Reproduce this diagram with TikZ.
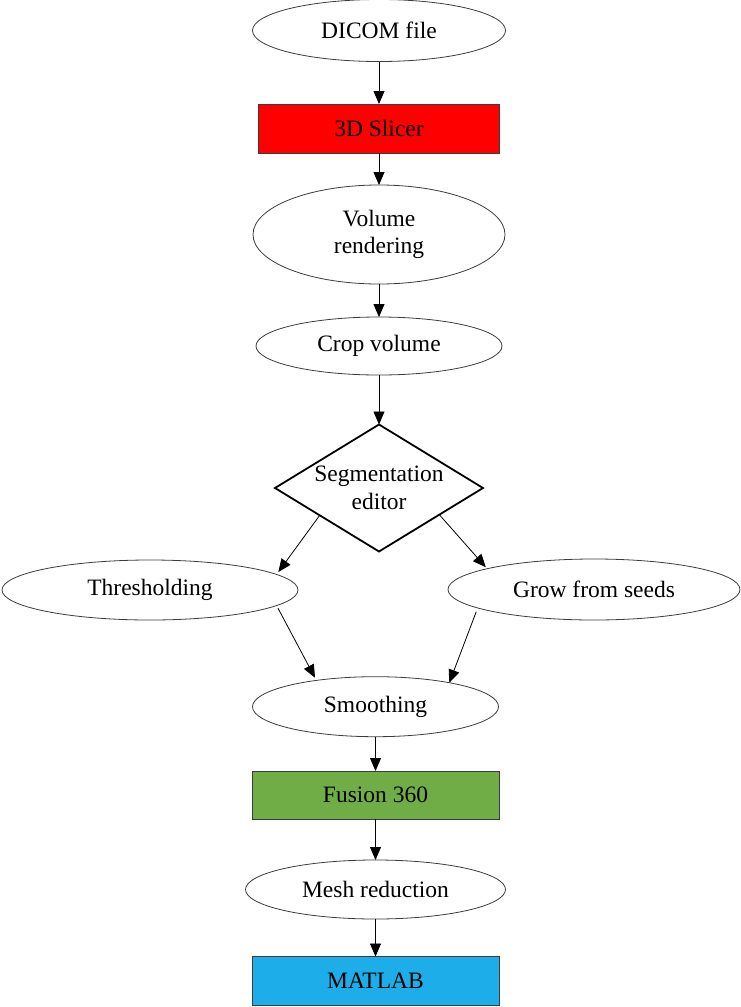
\documentclass[tikz,border=0pt]{standalone}
\usepackage{fontspec}
\setmainfont{Liberation Serif}
\usetikzlibrary{shapes.geometric,arrows.meta,calc}
\definecolor{slicerred}{RGB}{255,0,0}
\definecolor{fusiongreen}{RGB}{112,173,71}
\definecolor{matblue}{RGB}{29,174,234}
\definecolor{edgegray}{RGB}{60,60,60}
\begin{document}
\begin{tikzpicture}[x=1pt,y=-1pt,
  every node/.style={font=\fontsize{23.5}{27.5}\selectfont, inner sep=0pt, outer sep=0pt, align=center},
  oval/.style={ellipse, draw=edgegray, line width=0.8pt, fill=white},
  box/.style={rectangle, draw=edgegray, line width=0.8pt},
  decision/.style={diamond, draw=black, line width=1.8pt, fill=white},
  conn/.style={draw=black, line width=0.8pt, -{Triangle[length=13pt,width=11pt]}}]
\useasboundingbox (0,0) rectangle (741,1007);

\node[oval, minimum width=253pt, minimum height=62pt] (dicom) at (379,30.5) {DICOM file};
\node[box, fill=slicerred, minimum width=241pt, minimum height=49pt] (slicer) at (379,128.5) {3D Slicer};
\node[oval, minimum width=252pt, minimum height=99pt] (volume) at (379,234.5) {Volume\\rendering};
\node[oval, minimum width=246pt, minimum height=58pt] (crop) at (379,346) {Crop volume};
\node[decision, minimum width=208pt, minimum height=127pt,
      label={[align=center]center:Segmentation\\editor}] (seg) at (379,488) {};
\node[oval, minimum width=296pt, minimum height=60pt] (thr) at (150,590) {Thresholding};
\node[oval, minimum width=292pt, minimum height=61pt] (grow) at (594,589.5) {Grow from seeds};
\node[oval, minimum width=246pt, minimum height=60pt] (smooth) at (375.5,706.7) {Smoothing};
\node[box, fill=fusiongreen, minimum width=247pt, minimum height=48pt] (fusion) at (375.5,795) {Fusion 360};
\node[oval, minimum width=260pt, minimum height=59pt] (mesh) at (375.5,889.5) {Mesh reduction};
\node[box, fill=matblue, minimum width=247pt, minimum height=49pt] (matlab) at (375.5,981) {MATLAB};

\draw[conn] (dicom.south) -- (slicer.north);
\draw[conn] (slicer.south) -- (volume.north);
\draw[conn] (volume.south) -- (crop.north);
\draw[conn] (crop.south) -- (seg.north);
\draw[conn, shorten >=3pt] ($(seg.west)!0.43!(seg.south)$) -- (thr.7);
\draw[conn, shorten >=2pt] ($(seg.east)!0.42!(seg.south)$) -- (grow.169);
\draw[conn, shorten <=3pt, shorten >=3pt] (thr.-7.3) -- (smooth.156);
\draw[conn, shorten <=4pt] (grow.189.7) -- (smooth.18.5);
\draw[conn] (smooth.south) -- (fusion.north);
\draw[conn] (fusion.south) -- (mesh.north);
\draw[conn] (mesh.south) -- (matlab.north);
\end{tikzpicture}
\end{document}
